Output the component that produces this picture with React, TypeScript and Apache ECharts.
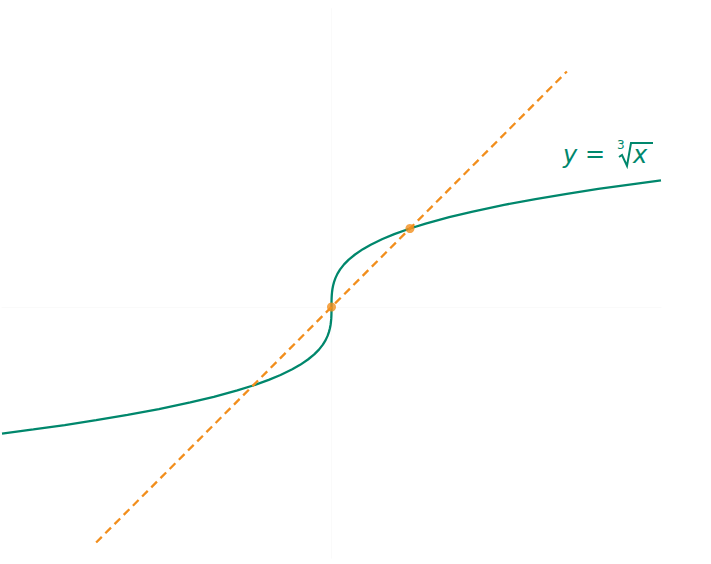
import React, { useEffect, useRef } from "react";
import * as echarts from "echarts";

const curveX = [
  -4.2, -3.8, -3.4, -3.0, -2.6, -2.2, -1.8, -1.5, -1.2, -1.0, -0.8, -0.65, -0.5, -0.4,
  -0.3, -0.22, -0.16, -0.11, -0.075, -0.05, -0.032, -0.02, -0.012, -0.007, -0.0035,
  -0.0015, -0.0005, -0.0001, 0,
  0.0001, 0.0005, 0.0015, 0.0035, 0.007, 0.012, 0.02, 0.032, 0.05, 0.075, 0.11, 0.16,
  0.22, 0.3, 0.4, 0.5, 0.65, 0.8, 1.0, 1.2, 1.5, 1.8, 2.2, 2.6, 3.0, 3.4, 3.8, 4.2,
];
const curveY = [
  -1.613, -1.560, -1.504, -1.442, -1.375, -1.301, -1.216, -1.145, -1.063, -1.0, -0.928,
  -0.866, -0.794, -0.737, -0.669, -0.604, -0.543, -0.479, -0.422, -0.368, -0.317,
  -0.271, -0.229, -0.191, -0.152, -0.114, -0.079, -0.046, 0,
  0.046, 0.079, 0.114, 0.152, 0.191, 0.229, 0.271, 0.317, 0.368, 0.422, 0.479, 0.543,
  0.604, 0.669, 0.737, 0.794, 0.866, 0.928, 1.0, 1.063, 1.145, 1.216, 1.301, 1.375,
  1.442, 1.504, 1.560, 1.613,
];
const lineX = [-3, 3];
const lineY = [-3, 3];
const pointX = [0, 1];
const pointY = [0, 1];

const TEAL = "#00876c";
const ORANGE = "#f28e1c";

export default function App() {
  const ref = useRef<HTMLDivElement>(null);
  useEffect(() => {
    if (!ref.current) return;
    const chart = echarts.init(ref.current, undefined, { renderer: "svg" });
    const light = "#fafafa";
    chart.setOption({
      animation: false,
      backgroundColor: "#ffffff",
      grid: { left: 2, right: 50, top: 8.7, bottom: 5.8 },
      xAxis: {
        type: "value",
        min: -4.2,
        max: 4.2,
        axisLine: { onZero: true, lineStyle: { color: light } },
        axisTick: { show: false },
        axisLabel: { show: false },
        splitLine: { show: false },
      },
      yAxis: {
        type: "value",
        min: -3.2,
        max: 3.8,
        axisLine: { onZero: true, lineStyle: { color: light } },
        axisTick: { show: false },
        axisLabel: { show: false },
        splitLine: { show: false },
      },
      series: [
        {
          type: "line",
          data: curveX.map((x, i) => [x, curveY[i]]),
          showSymbol: false,
          smooth: false,
          lineStyle: { color: TEAL, width: 2.3 },
          z: 2,
        },
        {
          type: "line",
          data: lineX.map((x, i) => [x, lineY[i]]),
          showSymbol: false,
          lineStyle: { color: ORANGE, width: 2.3, type: [8, 5] },
          z: 3,
        },
        {
          type: "scatter",
          data: pointX.map((x, i) => [x, pointY[i]]),
          symbolSize: 9,
          itemStyle: { color: ORANGE },
          z: 4,
        },
      ],
      graphic: [
        { type: "text", left: 563, top: 143, style: { text: "y", font: "italic 24px 'DejaVu Sans'", fill: TEAL } },
        { type: "text", left: 585, top: 142, style: { text: "=", font: "24px 'DejaVu Sans'", fill: TEAL } },
        { type: "text", left: 617, top: 139, style: { text: "3", font: "12px 'DejaVu Sans'", fill: TEAL } },
        {
          type: "polyline",
          shape: { points: [[619, 157], [622, 155], [627, 166], [631, 143], [653, 143]] },
          style: { stroke: TEAL, lineWidth: 2, fill: null, lineJoin: "miter" },
        },
        { type: "text", left: 633, top: 143, style: { text: "x", font: "italic 24px 'DejaVu Sans'", fill: TEAL } },
      ],
    });
    return () => chart.dispose();
  }, []);
  return <div ref={ref} style={{ width: 711, height: 564, position: "absolute", left: 0, top: 0 }} />;
}
